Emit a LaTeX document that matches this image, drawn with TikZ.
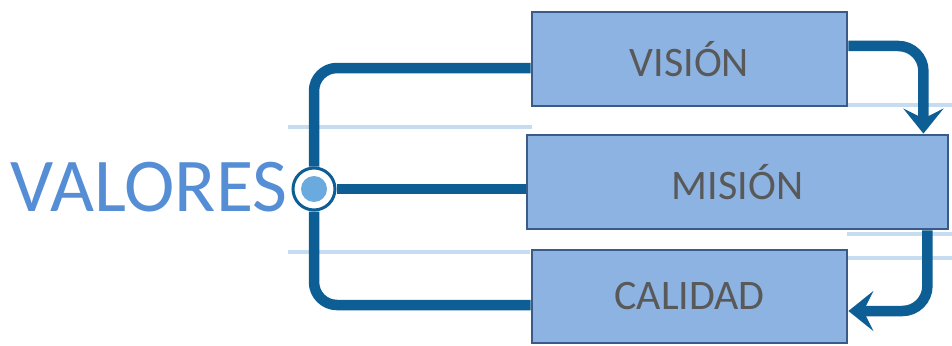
\documentclass[tikz,border=0pt]{standalone}
\usepackage{fontspec}
\setmainfont{Carlito}
\usepackage{tikz}
\usetikzlibrary{positioning,arrows.meta}

\definecolor{boxfill}{HTML}{8DB3E2}
\definecolor{boxline}{HTML}{3A5A88}
\definecolor{connblue}{RGB}{14,94,150}
\definecolor{guideblue}{HTML}{C6DDF1}
\definecolor{valblue}{HTML}{558ED5}
\definecolor{hubfill}{HTML}{6AAADF}
\definecolor{labelgray}{HTML}{595959}

\tikzset{
  block/.style={draw=boxline, fill=boxfill, line width=2.8pt, inner sep=0pt,
    text=labelgray, font=\fontsize{42}{42}\selectfont},
  conn/.style={draw=connblue, line width=10.5pt},
  guide/.style={draw=guideblue, line width=4pt},
}

\begin{document}
\begin{tikzpicture}[x=1pt, y=-1pt, >={Stealth[length=25pt,width=40pt,inset=10pt]}]
\useasboundingbox (0,0) rectangle (952,345);

% faint guide lines
\draw[guide] (288,127) -- (532,127);
\draw[guide] (288,252) -- (530,252);
\draw[guide] (847,105) -- (952,105);
\draw[guide] (847,234) -- (952,234);
\draw[guide] (847,258) -- (952,258);

% boxes
\node[block, minimum width=315pt, minimum height=94pt] (vision) at (689.5,59) {VISIÓN};
\node[block, minimum width=421pt, minimum height=94pt] (mision) at (737.5,182) {MISIÓN};
\node[block, minimum width=315pt, minimum height=93pt] (calidad) at (689.5,296.5) {CALIDAD};

% hub and label
\node[circle, draw=connblue, fill=white, line width=3pt, minimum size=42pt, inner sep=0pt,
  path picture={\fill[hubfill] (path picture bounding box.center) circle (13pt);}] (hub) at (314,189) {};
\node[text=valblue, font=\fontsize{76}{76}\selectfont, inner sep=0pt] (valores) at (149,187) {VALORES};

% connectors
\draw[conn, rounded corners=23pt] (hub.north) |- ([yshift=-9pt]vision.west);
\draw[conn, rounded corners=23pt] (hub.south) |- ([yshift=-8.5pt]calidad.west);
\draw[conn] (hub.east) -- (hub.east -| mision.west);

% arrows
\draw[conn, ->, rounded corners=25pt] ([yshift=13pt]vision.east) -| ([xshift=-26pt]mision.north east);
\draw[conn, ->, rounded corners=25pt] ([xshift=-22pt]mision.south east) |- ([yshift=-14.5pt]calidad.east);
\end{tikzpicture}
\end{document}
